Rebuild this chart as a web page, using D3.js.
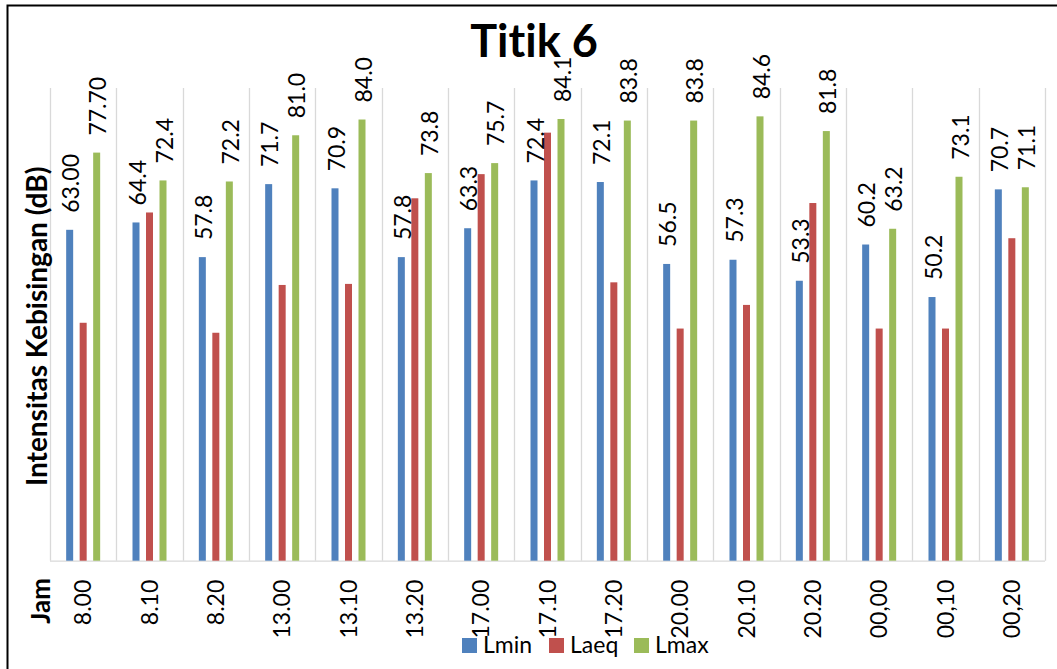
<!DOCTYPE html>
<html>
<head>
<meta charset="utf-8">
<script src="https://cdn.jsdelivr.net/npm/d3@7"></script>
<style>
  html, body { margin: 0; padding: 0; background: #fff; }
  svg { display: block; font-family: Lato, "Liberation Sans", Arial, sans-serif; font-variant-ligatures: none; font-feature-settings: "liga" 0, "clig" 0; }
</style>
</head>
<body>
<svg id="chart" width="1057" height="669"></svg>
<script>
// ---- data ----
const categories = ["8.00","8.10","8.20","13.00","13.10","13.20","17.00","17.10","17.20","20.00","20.10","20.20","00,00","00,10","00,20"];
const seriesNames = ["Lmin","Laeq","Lmax"];
const lmin = [63.00,64.4,57.8,71.7,70.9,57.8,63.3,72.4,72.1,56.5,57.3,53.3,60.2,50.2,70.7];
const laeq = [45.3,66.3,43.4,52.5,52.7,69.0,73.6,81.5,53.0,44.2,48.7,68.1,44.2,44.2,61.4];
const lmax = [77.70,72.4,72.2,81.0,84.0,73.8,75.7,84.1,83.8,83.8,84.6,81.8,63.2,73.1,71.1];
const lminLabels = ["63.00","64.4","57.8","71.7","70.9","57.8","63.3","72.4","72.1","56.5","57.3","53.3","60.2","50.2","70.7"];
const lmaxLabels = ["77.70","72.4","72.2","81.0","84.0","73.8","75.7","84.1","83.8","83.8","84.6","81.8","63.2","73.1","71.1"];
const yDomain = [0, 90];
const titleText = "Titik 6";
const yTitle = "Intensitas Kebisingan (dB)";
const xTitle = "Jam";

const colors = {Lmin: "#4f81bd", Laeq: "#c0504d", Lmax: "#9bbb59"};
const seriesData = {Lmin: lmin, Laeq: laeq, Lmax: lmax};
const seriesLabels = {Lmin: lminLabels, Lmax: lmaxLabels};

// ---- layout ----
const svg = d3.select("#chart");
const plot = {left: 50, right: 1045, top: 88, bottom: 560.7};

const x0 = d3.scaleBand().domain(categories).range([plot.left, plot.right]).paddingInner(0).paddingOuter(0);
const bw = x0.bandwidth();
const x1 = d3.scaleBand().domain(seriesNames).range([bw / 2 - 20.25, bw / 2 + 20.25]);
const barW = 7;
const y = d3.scaleLinear().domain(yDomain).range([plot.bottom, plot.top]);

// outer frame (only top & left visible)
svg.append("rect").attr("x", 7.5).attr("y", 5.5).attr("width", 1100).attr("height", 700)
  .attr("fill", "none").attr("stroke", "#000").attr("stroke-width", 2);

// vertical gridlines at category boundaries
const bounds = categories.map(c => x0(c)).concat([plot.right]);
svg.append("g").selectAll("line").data(bounds).join("line")
  .attr("x1", d => Math.round(d) + 0.5).attr("x2", d => Math.round(d) + 0.5)
  .attr("y1", plot.top).attr("y2", plot.bottom)
  .attr("stroke", "#d9d9d9").attr("stroke-width", 1.3);

// bottom axis line
svg.append("line").attr("x1", plot.left).attr("x2", plot.right)
  .attr("y1", plot.bottom + 0.5).attr("y2", plot.bottom + 0.5)
  .attr("stroke", "#d9d9d9").attr("stroke-width", 1.3);

// bars
const flat = [];
categories.forEach((c, i) => seriesNames.forEach(s => flat.push({c, i, s, v: seriesData[s][i]})));
svg.append("g").selectAll("rect").data(flat).join("rect")
  .attr("x", d => x0(d.c) + x1(d.s) + x1.bandwidth() / 2 - barW / 2)
  .attr("y", d => y(d.v))
  .attr("width", barW)
  .attr("height", d => y(0) - y(d.v))
  .attr("fill", d => colors[d.s]);

// data labels (Lmin & Lmax), rotated
const labelData = flat.filter(d => seriesLabels[d.s]);
svg.append("g").selectAll("text").data(labelData).join("text")
  .attr("transform", d => {
    const cx = x0(d.c) + x1(d.s) + x1.bandwidth() / 2 + 1.5;
    const ty = y(d.v) - 17;
    return `translate(${cx},${ty}) rotate(-90)`;
  })
  .attr("dy", "0.36em")
  .attr("text-anchor", "start")
  .attr("font-size", 23)
  .attr("fill", "#000")
  .text(d => seriesLabels[d.s][d.i]);

// x axis category labels
const xAxis = d3.axisBottom(x0).tickSize(0).tickPadding(0);
const gx = svg.append("g").attr("transform", `translate(0,${plot.bottom})`).call(xAxis);
gx.select(".domain").remove();
gx.selectAll(".tick text")
  .attr("transform", "translate(0,19) rotate(-90)")
  .attr("x", 0).attr("y", 0).attr("dy", "0.36em")
  .attr("text-anchor", "end")
  .attr("font-size", 23)
  .attr("font-family", "Lato, 'Liberation Sans', Arial, sans-serif")
  .attr("fill", "#000");

// title
svg.append("text").attr("x", 534).attr("y", 57).attr("text-anchor", "middle")
  .attr("font-size", 45).attr("font-weight", "bold").attr("fill", "#000").text(titleText);

// y axis title
svg.append("text").attr("transform", `translate(37,${(plot.top + plot.bottom) / 2 + 2}) rotate(-90)`)
  .attr("dy", "0.36em").attr("text-anchor", "middle")
  .attr("font-size", 28).attr("font-weight", "bold").attr("fill", "#000").text(yTitle);

// x axis title
svg.append("text").attr("transform", `translate(41,578) rotate(-90)`)
  .attr("dy", "0.36em").attr("text-anchor", "end")
  .attr("font-size", 26).attr("font-weight", "bold").attr("fill", "#000").text(xTitle);

// legend
const legendX = [462, 549, 634];
const lg = svg.append("g").selectAll("g").data(seriesNames).join("g")
  .attr("transform", (d, i) => `translate(${legendX[i]},638)`);
lg.append("rect").attr("width", 15).attr("height", 15).attr("fill", d => colors[d]);
lg.append("text").attr("x", 21).attr("y", 15).attr("font-size", 23).attr("fill", "#000").text(d => d);
</script>
</body>
</html>
